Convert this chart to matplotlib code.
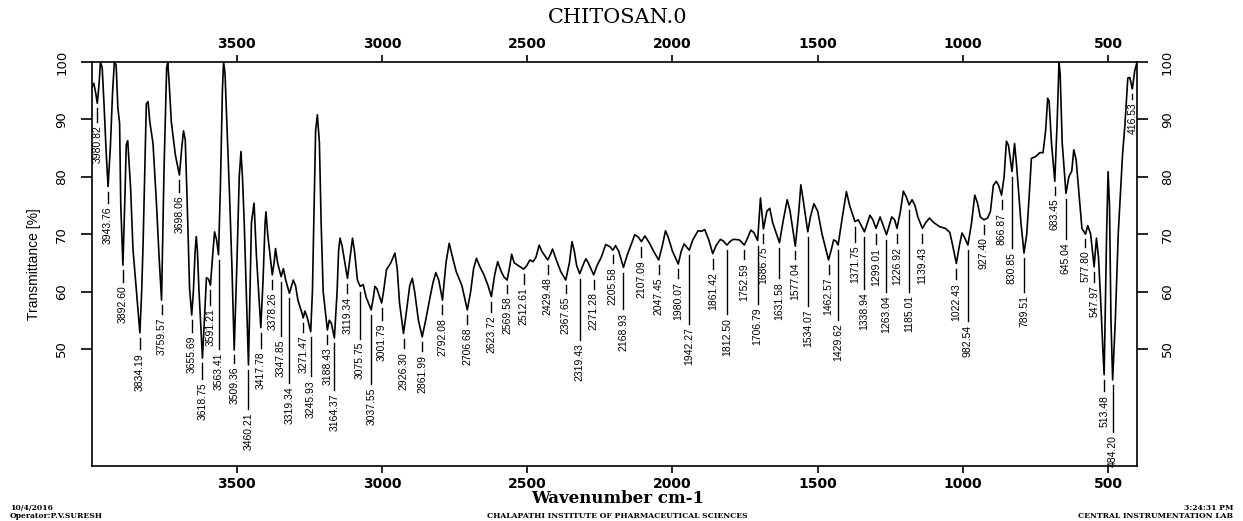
import numpy as np
import matplotlib
matplotlib.use("Agg")
import matplotlib.pyplot as plt

# Spectrum (wavenumber cm-1, transmittance %)
wavenumber = [
    4000, 3993, 3986, 3980.82, 3975, 3970, 3964, 3958, 3950, 3943.76, 3936, 3928, 3922, 3916,
    3910, 3904, 3900, 3892.60, 3886, 3881, 3876, 3871, 3866, 3858, 3841, 3834.19, 3828, 3823,
    3812, 3806, 3800, 3789, 3778, 3768, 3759.57, 3751, 3742, 3738, 3733, 3726, 3712, 3698.06,
    3690, 3684, 3678, 3672, 3663, 3655.69, 3650, 3644, 3640, 3636, 3631, 3618.75, 3612, 3605,
    3598, 3591.21, 3584, 3577, 3570, 3563.41, 3557, 3550, 3546, 3541, 3536, 3525, 3517, 3509.36,
    3500, 3492, 3486, 3481, 3475, 3460.21, 3450, 3441, 3433, 3417.78, 3410, 3403, 3400, 3394,
    3378.26, 3372, 3367, 3360, 3347.85, 3340, 3332, 3319.34, 3312, 3306, 3298, 3290, 3277,
    3271.47, 3266, 3258, 3245.93, 3240, 3236, 3229, 3223, 3216, 3210, 3203, 3188.43, 3182, 3175,
    3164.37, 3155, 3150, 3145, 3138, 3119.34, 3110, 3102, 3095, 3085, 3075.75, 3065, 3055,
    3037.55, 3030, 3025, 3018, 3001.79, 2995, 2985, 2970, 2956, 2948, 2940, 2926.30, 2915, 2905,
    2896, 2888, 2875, 2861.99, 2850, 2835, 2825, 2815, 2805, 2792.08, 2780, 2769, 2760, 2745,
    2725, 2706.68, 2695, 2685, 2675, 2665, 2650, 2635, 2623.72, 2612, 2602, 2590, 2580, 2569.58,
    2560, 2554, 2545, 2530, 2512.61, 2502, 2491, 2480, 2470, 2459, 2450, 2429.48, 2420, 2413,
    2400, 2385, 2367.65, 2355, 2346, 2338, 2330, 2319.43, 2305, 2298, 2290, 2271.28, 2260, 2245,
    2230, 2215, 2205.58, 2196, 2185, 2168.93, 2155, 2140, 2130, 2118, 2107.09, 2095, 2080, 2065,
    2047.45, 2035, 2024, 2015, 2000, 1980.07, 1970, 1960, 1942.27, 1930, 1912, 1900, 1889, 1875,
    1861.42, 1850, 1835, 1825, 1812.50, 1800, 1790, 1770, 1760, 1752.59, 1740, 1730, 1720,
    1706.79, 1697, 1686.75, 1675, 1665, 1655, 1631.58, 1620, 1605, 1595, 1577.04, 1565, 1558,
    1550, 1534.07, 1525, 1513, 1500, 1485, 1462.57, 1452, 1445, 1437, 1429.62, 1415, 1401, 1390,
    1371.75, 1360, 1338.94, 1320, 1310, 1299.01, 1285, 1263.04, 1245, 1235, 1226.92, 1215, 1205,
    1195, 1185.01, 1175, 1165, 1155, 1139.43, 1128, 1115, 1100, 1080, 1060, 1045, 1035, 1022.43,
    1012, 1003, 995, 982.54, 970, 959, 950, 940, 927.40, 915, 905, 895, 885, 877, 866.87, 858,
    850, 843, 830.85, 822, 815, 800, 789.51, 780, 770, 764, 750, 735, 724, 715, 708, 703, 695,
    683.45, 675, 669, 665, 658, 645.04, 635, 625, 618, 610, 600, 590, 577.80, 570, 560, 547.97,
    540, 533, 525, 518, 513.48, 505, 500, 495, 490, 484.20, 475, 465, 450, 442, 432, 425, 416.53,
    408, 400,
]
transmittance = [
    95.5, 96.3, 94.5, 92.8, 96, 100, 99, 93, 84, 78.3, 85, 95, 100, 99.5,
    92, 89.3, 75, 64.6, 76, 85.6, 86.3, 82, 77.9, 67.4, 57, 52.8, 60, 68.6,
    92.7, 93.1, 89.6, 85.8, 76.2, 66, 58.5, 81.4, 99, 100, 96, 89.6, 83.8, 80.3,
    85, 88, 86.5, 76.8, 60.5, 55.9, 60, 67, 69.6, 67, 60.5, 48.4, 55, 62.4,
    62.2, 61.1, 66, 70.4, 69, 66.4, 78, 95, 100, 98, 91.3, 76.2, 64, 49.8,
    65, 80, 84.4, 80, 72.2, 47.2, 72, 75.4, 66.4, 53.7, 62, 72, 73.9, 70,
    62.9, 65, 67.5, 65, 62.6, 64, 62, 59.7, 61, 62, 61, 58.5, 56.4,
    55.4, 56.6, 55.5, 53.0, 60, 70, 88, 90.8, 86, 72, 60, 53.3, 55.0, 54.5,
    51.9, 60, 67, 69.3, 68, 62.3, 66, 69.3, 67, 62, 60.9, 61.2, 59,
    56.8, 59, 60.9, 60.5, 58.0, 60, 63.8, 65, 66.7, 64, 58, 52.7, 57, 61,
    62.3, 60, 55, 52.1, 55, 59, 61.5, 63.3, 62, 58.5, 65, 68.4, 66.5, 63.5,
    61, 56.8, 60, 64, 65.8, 64.5, 63, 61, 59.1, 63, 65.2, 63.5, 62.5, 62.0,
    64.5, 66.5, 65, 64.5, 63.9, 64.5, 65.5, 65.2, 66, 68.1, 67, 65.5, 66.5, 67.4,
    65.5, 63.5, 62.0, 65, 68.7, 67, 64.5, 63.1, 65, 65.7, 65, 62.9, 64.5, 66,
    68.2, 67.8, 67.2, 68.0, 67, 64.2, 66.5, 68.5, 69.9, 69.5, 68.7, 69.7, 68.5, 67,
    65.5, 68, 70.6, 69.5, 67, 64.8, 67, 68.3, 67.2, 69, 70.6, 70.5, 70.8, 69,
    66.6, 68, 69.1, 68.8, 68.1, 68.8, 69.1, 69.0, 68.5, 68.1, 69.5, 70.7, 70.3,
    68.9, 76.3, 70.9, 74, 74.5, 72, 68.5, 72, 76.0, 74, 67.9, 74, 78.6,
    76, 70.4, 73, 75.3, 74, 70, 65.5, 67.5, 69.0, 68.8, 68.1, 73, 77.4, 75,
    72.2, 72.5, 70.4, 73.3, 72.5, 71.0, 73.0, 69.9, 73.0, 72.5, 71.0, 74, 77.5,
    76.5, 75.1, 76.0, 75, 73, 71.0, 72, 72.8, 72, 71.3, 71, 70.3, 68, 64.9,
    68, 70.2, 69.5, 68.1, 72, 76.8, 75.5, 73, 72.5, 72.8, 74, 78.5, 79.2, 78.5, 76.8, 80,
    86.2, 85.5, 80.9, 85.8, 82, 72, 66.7, 70, 78, 83.2, 83.5, 84.2, 84.2, 88, 93.7, 93.2, 86,
    79.2, 90, 100, 98, 86, 77.1, 80, 81, 84.7, 83, 77, 71, 70.0, 71.5, 70, 64.3,
    69.3, 66, 58, 50, 45.5, 70, 80.9, 75, 55, 44.6, 55, 70, 84, 89, 97.2, 97.3, 95.3,
    98.5, 100,
]

# Picked peaks and the level where each label text starts
peak_wn = [
    3980.82, 3943.76, 3892.60, 3834.19, 3759.57, 3698.06, 3655.69, 3618.75, 3591.21, 3563.41,
    3509.36, 3460.21, 3417.78, 3378.26, 3347.85, 3319.34, 3271.47, 3245.93, 3188.43, 3164.37,
    3119.34, 3075.75, 3037.55, 3001.79, 2926.30, 2861.99, 2792.08, 2706.68, 2623.72, 2569.58,
    2512.61, 2429.48, 2367.65, 2319.43, 2271.28, 2205.58, 2168.93, 2107.09, 2047.45, 1980.07,
    1942.27, 1861.42, 1812.50, 1752.59, 1706.79, 1686.75, 1631.58, 1577.04, 1534.07, 1462.57,
    1429.62, 1371.75, 1338.94, 1299.01, 1263.04, 1226.92, 1185.01, 1139.43, 1022.43, 982.54,
    927.40, 866.87, 830.85, 789.51, 683.45, 645.04, 577.80, 547.97, 513.48, 484.20, 416.53,
]
label_level = [
    89.0, 74.8, 61.1, 49.3, 55.4, 76.8, 52.4, 44.1, 57.1, 49.3,
    46.9, 38.9, 49.5, 59.8, 51.7, 43.4, 52.4, 44.6, 50.3, 42.3,
    59.1, 51.2, 43.2, 54.5, 49.5, 49.0, 55.4, 53.7, 55.9, 59.1,
    60.8, 62.5, 59.1, 51.0, 59.9, 64.3, 56.3, 65.5, 62.4, 61.7,
    53.8, 63.4, 55.4, 65.0, 57.3, 67.8, 61.7, 65.0, 56.8, 62.4,
    54.5, 68.1, 59.9, 67.6, 59.4, 67.8, 59.4, 67.8, 61.5, 54.2,
    69.5, 73.7, 66.9, 59.4, 76.3, 68.5, 67.2, 61.1, 42.0, 35.0, 93.0,
]

xticks = [3500, 3000, 2500, 2000, 1500, 1000, 500]
yticks = [50, 60, 70, 80, 90, 100]

fig = plt.figure(figsize=(12.43, 5.21), dpi=100)
ax = fig.add_axes([0.0738, 0.1056, 0.841, 0.7754])

ax.plot(wavenumber, transmittance, color="black", lw=1.2)

# peak markers: line from under the trough down to the text
trough = np.interp(peak_wn, wavenumber[::-1], transmittance[::-1])
for wn, t, lvl in zip(peak_wn, trough, label_level):
    ax.plot([wn, wn], [t - 0.9, lvl + 0.6], color="black", lw=1.0)
    ax.text(wn, lvl, f"{wn:.2f}", rotation=90, ha="center", va="top",
            fontsize=7.5, family=["Liberation Sans Narrow", "Liberation Sans"])

ax.set_xlim(4000, 400)
ax.set_ylim(29.6, 100)
ax.set_xticks(xticks)
ax.set_yticks(yticks)
ax.tick_params(axis="x", top=True, labeltop=True, length=5, width=1.2,
               labelsize=10, pad=3)
ax.tick_params(axis="y", right=True, labelright=True, length=8, width=1.2,
               labelsize=9.5, labelrotation=90, pad=9)
for tk in ax.xaxis.get_major_ticks():
    tk.label1.set_fontweight("bold")
    tk.label2.set_fontweight("bold")
for tk in ax.yaxis.get_major_ticks():
    tk.label1.set_va("center")
    tk.label2.set_va("center")
for sp in ax.spines.values():
    sp.set_linewidth(1.2)

ax.set_ylabel("Transmittance [%]", fontsize=10, family="Liberation Sans", labelpad=10)

fig.text(0.497, 0.967, "CHITOSAN.0", ha="center", va="center",
         fontsize=15, family="DejaVu Serif")
fig.text(0.497, 0.044, "Wavenumber cm-1", ha="center", va="center",
         fontsize=12, family="DejaVu Serif", fontweight="bold")

foot = dict(fontsize=5.5, family="DejaVu Serif", fontweight="bold")
fig.text(0.008, 0.025, "10/4/2016", ha="left", va="center", **foot)
fig.text(0.008, 0.010, "Operator:P.V.SURESH", ha="left", va="center", **foot)
fig.text(0.497, 0.010, "CHALAPATHI INSTITUTE OF PHARMACEUTICAL SCIENCES",
         ha="center", va="center", **foot)
fig.text(0.992, 0.025, "3:24:31 PM", ha="right", va="center", **foot)
fig.text(0.992, 0.010, "CENTRAL INSTRUMENTATION LAB", ha="right", va="center", **foot)

fig.savefig("out.png", dpi=100)
